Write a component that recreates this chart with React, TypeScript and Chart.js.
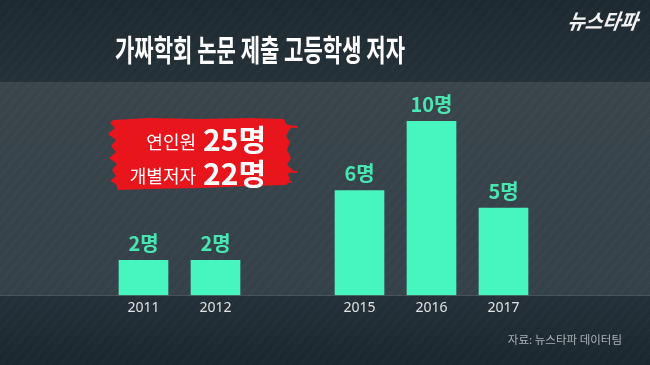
import React, { useEffect, useRef } from 'react';
import { Chart, registerables } from 'chart.js';

Chart.register(...registerables);

const categories = ['2011', '2012', '', '2015', '2016', '2017'];
const authors: (number | null)[] = [2, 2, null, 6, 10, 5];
const valueLabels = ['2명', '2명', '', '6명', '10명', '5명'];
const titleText = '가짜학회 논문 제출 고등학생 저자';
const calloutLines = [
  ['연인원', '25명'],
  ['개별저자', '22명'],
];
const sourceText = '자료: 뉴스타파 데이터팀';
const logoText = '뉴스타파';

const FONT = '"Noto Sans CJK KR", "Noto Sans", sans-serif';
const BAR = '#47f5be';
const LABEL = '#4ae6b2';

const backgroundPlugin = {
  id: 'bgBands',
  beforeDraw(chart: any) {
    const { ctx, width, height, chartArea } = chart;
    ctx.save();
    const bandTop = 82;
    const bandBottom = chartArea.bottom;
    let g = ctx.createLinearGradient(0, 0, 0, bandTop);
    g.addColorStop(0, '#1e2a31');
    g.addColorStop(1, '#25323a');
    ctx.fillStyle = g;
    ctx.fillRect(0, 0, width, bandTop);
    g = ctx.createLinearGradient(0, bandTop, 0, bandBottom);
    g.addColorStop(0, '#3a464c');
    g.addColorStop(1, '#36424a');
    ctx.fillStyle = g;
    ctx.fillRect(0, bandTop, width, bandBottom - bandTop);
    g = ctx.createLinearGradient(0, bandBottom, 0, height);
    g.addColorStop(0, '#25313a');
    g.addColorStop(1, '#1c2830');
    ctx.fillStyle = g;
    ctx.fillRect(0, bandBottom, width, height - bandBottom);
    ctx.lineWidth = 1;
    for (let k = -height; k < width + 10; k += 5) {
      ctx.strokeStyle = (k / 5) % 2 === 0 ? 'rgba(255,255,255,0.035)' : 'rgba(0,0,0,0.06)';
      ctx.beginPath();
      ctx.moveTo(k, height);
      ctx.lineTo(k + height * 0.85, 0);
      ctx.stroke();
    }
    ctx.restore();
  },
};

const overlayPlugin = {
  id: 'overlay',
  afterDatasetsDraw(chart: any) {
    const { ctx } = chart;
    const meta = chart.getDatasetMeta(0);
    ctx.save();
    ctx.fillStyle = LABEL;
    ctx.font = `bold 20px ${FONT}`;
    ctx.textAlign = 'center';
    ctx.textBaseline = 'middle';
    meta.data.forEach((el: any, i: number) => {
      if (authors[i] == null) return;
      ctx.fillText(valueLabels[i], el.x, el.y - 17);
    });

    // title (condensed)
    ctx.fillStyle = '#ffffff';
    ctx.font = `bold 30px ${FONT}`;
    ctx.textAlign = 'left';
    ctx.textBaseline = 'middle';
    const tw = ctx.measureText(titleText).width;
    const targetW = 290;
    ctx.save();
    ctx.translate(115, 50);
    ctx.scale(targetW / tw, 1);
    ctx.fillText(titleText, 0, 0);
    ctx.restore();

    // logo
    ctx.save();
    ctx.fillStyle = '#f2f2f2';
    ctx.font = `bold italic 19px ${FONT}`;
    ctx.translate(568, 21);
    ctx.transform(1, 0, -0.15, 1, 0, 0);
    const lw = ctx.measureText(logoText).width;
    ctx.scale(70 / lw, 1.1);
    ctx.textBaseline = 'middle';
    ctx.fillText(logoText, 0, 0);
    ctx.restore();

    // red brush callout
    const pts: [number, number][] = [
      [113, 120], [150, 118], [200, 119], [250, 118], [284, 119],
      [286, 124], [293, 126], [289, 130], [286, 136], [290, 142],
      [287, 150], [291, 158], [287, 165], [293, 170], [288, 174],
      [290, 180], [286, 185], [250, 186], [200, 188], [150, 189], [118, 190],
      [116, 184], [110, 181], [116, 176], [112, 170], [117, 164],
      [109, 158], [116, 152], [111, 146], [116, 140], [108, 134],
      [115, 128], [110, 123],
    ];
    ctx.fillStyle = '#e8151c';
    ctx.beginPath();
    pts.forEach(([x, y], i) => (i === 0 ? ctx.moveTo(x, y) : ctx.lineTo(x, y)));
    ctx.closePath();
    ctx.fill();
    ctx.strokeStyle = '#e8151c';
    ctx.lineWidth = 2;
    [[126, 298], [171, 297], [181, 292]].forEach(([y, x2]) => {
      ctx.beginPath();
      ctx.moveTo(280, y);
      ctx.lineTo(x2, y + 1);
      ctx.stroke();
    });

    ctx.fillStyle = '#ffffff';
    ctx.textBaseline = 'alphabetic';
    const rows = [
      { y: 151, small: 18, big: 30 },
      { y: 185, small: 18, big: 30 },
    ];
    calloutLines.forEach(([a, b], i) => {
      const r = rows[i];
      ctx.font = `bold ${r.big}px ${FONT}`;
      ctx.textAlign = 'right';
      ctx.fillText(b, 266, r.y);
      const bw = ctx.measureText(b).width;
      ctx.font = `${r.small}px ${FONT}`;
      ctx.fillText(a, 266 - bw - 7, r.y - 2);
    });

    ctx.fillStyle = '#a9b1b6';
    ctx.font = `11.5px ${FONT}`;
    ctx.textAlign = 'right';
    ctx.textBaseline = 'middle';
    ctx.fillText(sourceText, 622, 340);

    ctx.restore();
  },
};

export default function App() {
  const ref = useRef<HTMLCanvasElement | null>(null);

  useEffect(() => {
    if (!ref.current) return;
    const chart = new Chart(ref.current, {
      type: 'bar',
      data: {
        labels: categories,
        datasets: [
          {
            data: authors,
            backgroundColor: BAR,
            borderWidth: 0,
            barThickness: 49,
          },
        ],
      },
      options: {
        responsive: false,
        animation: false,
        layout: { padding: { left: 107.5, right: 110.5, top: 121, bottom: 53 } },
        plugins: {
          legend: { display: false },
          title: { display: false },
          tooltip: { enabled: false },
        },
        scales: {
          x: {
            grid: { display: false },
            border: { display: false },
            ticks: {
              color: '#dfe3e5',
              font: { family: '"Noto Sans", Roboto, sans-serif', size: 14 },
              padding: -4,
              maxRotation: 0,
              autoSkip: false,
            },
          },
          y: {
            display: false,
            min: 0,
            max: 10,
          },
        },
      },
      plugins: [backgroundPlugin, overlayPlugin],
    });
    return () => chart.destroy();
  }, []);

  return (
    <div style={{ position: 'fixed', left: 0, top: 0, width: 650, height: 365 }}>
      <canvas ref={ref} width={650} height={365} style={{ display: 'block' }} />
    </div>
  );
}
